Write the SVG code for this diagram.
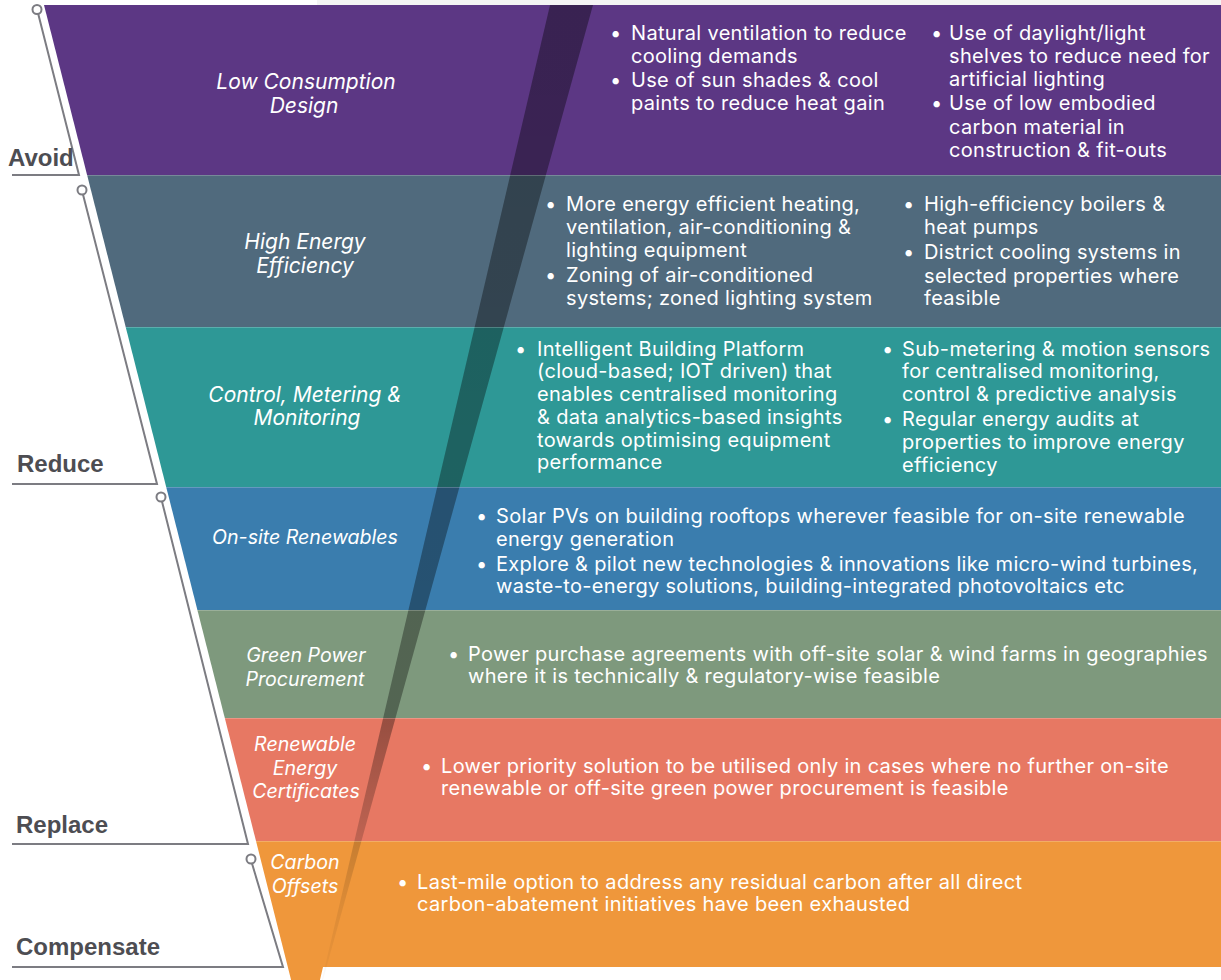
<svg xmlns="http://www.w3.org/2000/svg" width="1221" height="980" viewBox="0 0 1221 980">
<style>
.b{font-family:Inter,"Noto Sans","Liberation Sans",sans-serif;font-size:20px;letter-spacing:0.32px;fill:#ffffff}
.c{font-family:Inter,"Noto Sans","Liberation Sans",sans-serif;font-size:19.6px;font-style:italic;fill:#ffffff;text-anchor:middle}
.c.l{font-size:21px}
.s{font-family:"Liberation Sans",Arial,sans-serif;font-size:24px;font-weight:bold;fill:#4d4d52}
.br{fill:none;stroke:#7c7c82;stroke-width:2}
.dot{fill:#ffffff;stroke:#7c7c82;stroke-width:2}
.sep{stroke:#ffffff;stroke-opacity:0.22;stroke-width:1}
</style>
<defs>
<linearGradient id="shade" gradientUnits="userSpaceOnUse" x1="0" y1="5" x2="0" y2="1005">
<stop offset="0" stop-color="#000" stop-opacity="0.38"/>
<stop offset="0.72" stop-color="#000" stop-opacity="0.34"/>
<stop offset="0.9" stop-color="#000" stop-opacity="0.08"/>
<stop offset="1" stop-color="#000" stop-opacity="0"/>
</linearGradient>
</defs>
<rect x="0" y="0" width="1221" height="980" fill="#ffffff"/>
<rect x="317" y="0" width="904" height="5" fill="#f4f4f4"/>

<g id="sec-avoid-low-consumption">
<polygon points="44,5 1221,5 1221,175 87.1,175" fill="#5c3784"/>
</g>
<g id="sec-high-efficiency">
<polygon points="87.1,175 1221,175 1221,327 125.7,327" fill="#506a7d"/>
</g>
<g id="sec-control">
<polygon points="125.7,327 1221,327 1221,487 166.2,487" fill="#2e9896"/>
</g>
<g id="sec-onsite">
<polygon points="166.2,487 1221,487 1221,610 197.4,610" fill="#3a7dae"/>
</g>
<g id="sec-green">
<polygon points="197.4,610 1221,610 1221,718 224.8,718" fill="#7e997d"/>
</g>
<g id="sec-rec">
<polygon points="224.8,718 1221,718 1221,841 256,841" fill="#e77863"/>
</g>
<g id="sec-offsets">
<polygon points="256,841 1221,841 1221,967 323,967 306,1039" fill="#ef973b"/>
</g>

<polygon id="fold-shadow" points="550,5 593,5 316,1005" fill="url(#shade)"/>

<g id="separators">
<line class="sep" x1="87" y1="175.5" x2="1221" y2="175.5"/>
<line class="sep" x1="126" y1="327.5" x2="1221" y2="327.5"/>
<line class="sep" x1="166" y1="487.5" x2="1221" y2="487.5"/>
<line class="sep" x1="197" y1="610.5" x2="1221" y2="610.5"/>
<line class="sep" x1="225" y1="718.5" x2="1221" y2="718.5"/>
<line class="sep" x1="256" y1="841.5" x2="1221" y2="841.5"/>
</g>

<g id="connectors">
<polyline class="br" points="38,13 79,175 12,175"/>
<circle class="dot" cx="37" cy="9.5" r="4.5"/>
<polyline class="br" points="83,194.5 157,484 12,484"/>
<circle class="dot" cx="82" cy="190" r="4.5"/>
<polyline class="br" points="162,501.5 248,844 12,844"/>
<circle class="dot" cx="161" cy="497" r="4.5"/>
<polyline class="br" points="252,863.5 283,967 12,967"/>
<circle class="dot" cx="251" cy="859" r="4.5"/>
</g>

<g id="stage-avoid"><text class="s" x="8" y="166">Avoid</text></g>
<g id="stage-reduce"><text class="s" x="17" y="472">Reduce</text></g>
<g id="stage-replace"><text class="s" x="16" y="833">Replace</text></g>
<g id="stage-compensate"><text class="s" x="16" y="955">Compensate</text></g>

<g id="label-low-consumption">
<text class="c l" x="306" y="89">Low Consumption</text>
<text class="c l" x="304" y="113">Design</text>
</g>
<g id="text-low-consumption">
<text class="b" x="610" y="40">•</text>
<text class="b" x="631" y="40">Natural ventilation to reduce</text>
<text class="b" x="631" y="63">cooling demands</text>
<text class="b" x="610" y="87">•</text>
<text class="b" x="631" y="87">Use of sun shades &amp; cool</text>
<text class="b" x="631" y="110">paints to reduce heat gain</text>
<text class="b" x="931" y="40">•</text>
<text class="b" x="949" y="40">Use of daylight/light</text>
<text class="b" x="949" y="63">shelves to reduce need for</text>
<text class="b" x="949" y="86">artificial lighting</text>
<text class="b" x="931" y="110">•</text>
<text class="b" x="949" y="110">Use of low embodied</text>
<text class="b" x="949" y="134">carbon material in</text>
<text class="b" x="949" y="157">construction &amp; fit-outs</text>
</g>

<g id="label-high-efficiency">
<text class="c l" x="305" y="249">High Energy</text>
<text class="c l" x="305" y="273">Efficiency</text>
</g>
<g id="text-high-efficiency">
<text class="b" x="545" y="211">•</text>
<text class="b" x="566" y="211">More energy efficient heating,</text>
<text class="b" x="566" y="234">ventilation, air-conditioning &amp;</text>
<text class="b" x="566" y="257">lighting equipment</text>
<text class="b" x="545" y="282">•</text>
<text class="b" x="566" y="282">Zoning of air-conditioned</text>
<text class="b" x="566" y="305">systems; zoned lighting system</text>
<text class="b" x="903" y="211">•</text>
<text class="b" x="924" y="211">High-efficiency boilers &amp;</text>
<text class="b" x="924" y="234">heat pumps</text>
<text class="b" x="903" y="259">•</text>
<text class="b" x="924" y="259">District cooling systems in</text>
<text class="b" x="924" y="283">selected properties where</text>
<text class="b" x="924" y="305">feasible</text>
</g>

<g id="label-control">
<text class="c l" x="305" y="402">Control, Metering &amp;</text>
<text class="c l" x="307" y="425">Monitoring</text>
</g>
<g id="text-control">
<text class="b" x="515" y="356">•</text>
<text class="b" x="537" y="356">Intelligent Building Platform</text>
<text class="b" x="537" y="378">(cloud-based; IOT driven) that</text>
<text class="b" x="537" y="401">enables centralised monitoring</text>
<text class="b" x="537" y="424">&amp; data analytics-based insights</text>
<text class="b" x="537" y="447">towards optimising equipment</text>
<text class="b" x="537" y="469">performance</text>
<text class="b" x="882" y="356">•</text>
<text class="b" x="902" y="356">Sub-metering &amp; motion sensors</text>
<text class="b" x="902" y="378">for centralised monitoring,</text>
<text class="b" x="902" y="401">control &amp; predictive analysis</text>
<text class="b" x="882" y="426">•</text>
<text class="b" x="902" y="426">Regular energy audits at</text>
<text class="b" x="902" y="449">properties to improve energy</text>
<text class="b" x="902" y="472">efficiency</text>
</g>

<g id="label-onsite">
<text class="c" x="305" y="544">On-site Renewables</text>
</g>
<g id="text-onsite">
<text class="b" x="476" y="523">•</text>
<text class="b" x="496" y="523">Solar PVs on building rooftops wherever feasible for on-site renewable</text>
<text class="b" x="496" y="546">energy generation</text>
<text class="b" x="476" y="571">•</text>
<text class="b" x="496" y="571">Explore &amp; pilot new technologies &amp; innovations like micro-wind turbines,</text>
<text class="b" x="496" y="593">waste-to-energy solutions, building-integrated photovoltaics etc</text>
</g>

<g id="label-green">
<text class="c" x="306" y="662">Green Power</text>
<text class="c" x="305" y="686">Procurement</text>
</g>
<g id="text-green">
<text class="b" x="448" y="661">•</text>
<text class="b" x="468" y="661">Power purchase agreements with off-site solar &amp; wind farms in geographies</text>
<text class="b" x="468" y="683">where it is technically &amp; regulatory-wise feasible</text>
</g>

<g id="label-rec">
<text class="c" x="305" y="751">Renewable</text>
<text class="c" x="305" y="775">Energy</text>
<text class="c" x="306" y="798">Certificates</text>
</g>
<g id="text-rec">
<text class="b" x="421" y="773">•</text>
<text class="b" x="441" y="773">Lower priority solution to be utilised only in cases where no further on-site</text>
<text class="b" x="441" y="795">renewable or off-site green power procurement is feasible</text>
</g>

<g id="label-offsets">
<text class="c" x="305" y="869">Carbon</text>
<text class="c" x="305" y="893">Offsets</text>
</g>
<g id="text-offsets">
<text class="b" x="397" y="889">•</text>
<text class="b" x="417" y="889">Last-mile option to address any residual carbon after all direct</text>
<text class="b" x="417" y="911">carbon-abatement initiatives have been exhausted</text>
</g>
</svg>
